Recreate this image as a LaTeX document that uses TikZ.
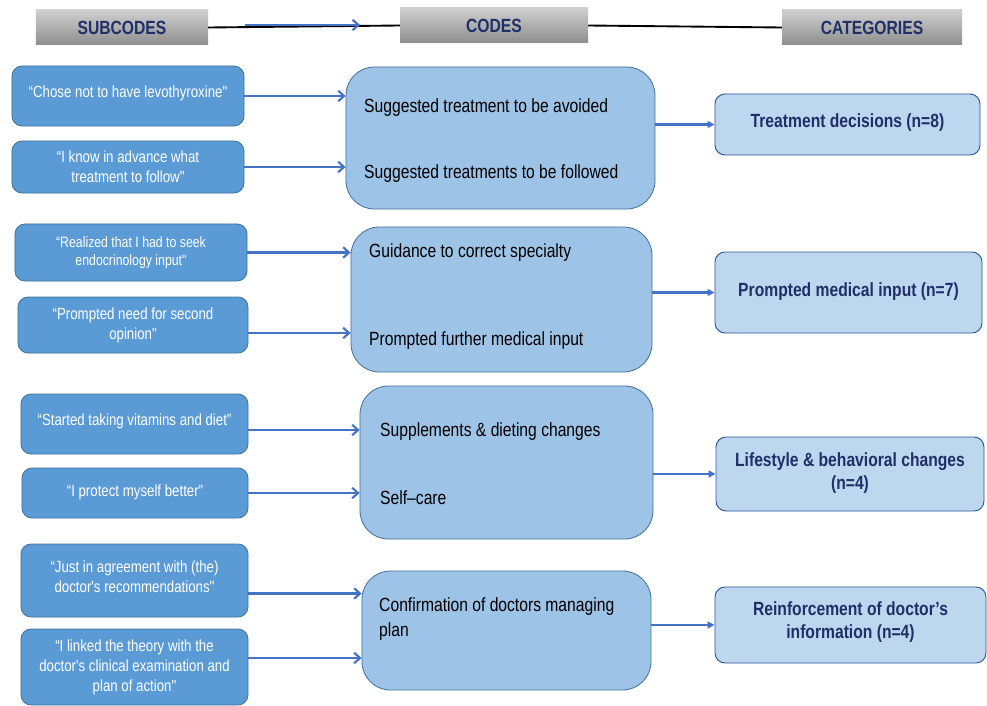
\documentclass[tikz,border=0pt]{standalone}
\usepackage{fontspec}
\setmainfont{Liberation Sans}
\newfontfamily\narrowfont[FakeStretch=0.82]{Liberation Sans}
\usetikzlibrary{calc,arrows.meta}

\definecolor{subfill}{HTML}{5B9BD5}
\definecolor{subline}{HTML}{41719C}
\definecolor{codefill}{HTML}{9DC3E6}
\definecolor{catfill}{HTML}{BDD7EE}
\definecolor{catline}{HTML}{2F5597}
\definecolor{arrowblue}{HTML}{4472C4}
\definecolor{navy}{HTML}{1F3068}
\definecolor{headtop}{HTML}{CFCFCF}
\definecolor{headbot}{HTML}{8E8E8E}

\def\subtxt{\narrowfont\fontsize{13.8}{17}\selectfont}
\def\subsmall{\narrowfont\fontsize{12.8}{15.3}\selectfont}
\def\codetxt{\narrowfont\fontsize{16.3}{22}\selectfont}
\def\cattxt{\narrowfont\bfseries\fontsize{16.3}{19.5}\selectfont}

\tikzset{
	head/.style={top color=headtop, bottom color=headbot, minimum height=1.05cm, text=navy, font=\cattxt},
	subbox/.style={draw=subline, fill=subfill, rounded corners=0.3cm, line width=0.7pt, text=white, font=\subtxt, align=center, inner sep=1pt},
	codebox/.style={draw=subline, fill=codefill, rounded corners=0.85cm, line width=0.7pt},
	codetext/.style={anchor=west, font=\codetxt, align=left, inner sep=0pt},
	catbox/.style={draw=catline, fill=catfill, rounded corners=0.3cm, line width=0.8pt, text=navy, font=\cattxt, align=center},
	subarrow/.style={draw=arrowblue, line width=1.8pt, -{Straight Barb[length=5pt,width=9pt]}},
	catarrow/.style={draw=arrowblue, line width=1.8pt, -{Triangle[length=6pt,width=6pt]}},
	headline/.style={line width=1.6pt, draw=black}
}

\begin{document}
\begin{tikzpicture}[x=0.03cm, y=-0.03cm]
	%%%%% START %%%%%
	\useasboundingbox (0, 0) rectangle (987, 706);
	
	% headers
	\node[head, minimum width=5.16cm] (hsub) at (122, 27.5) {SUBCODES};
	\node[head, minimum width=5.64cm] (hcode) at (494, 25.5) {CODES};
	\node[head, minimum width=5.4cm] (hcat) at (872, 27.5) {CATEGORIES};
	\coordinate (ha) at (245, 25);
	\coordinate (hb) at (360, 25);
	
	\draw[headline] (hsub.east) -- (hcode.west);
	\draw[headline] (hcode.east) -- (hcat.west);
	\draw[subarrow] (ha) -- (hb);
	
	% subcodes
	\node[subbox, minimum width=6.96cm, minimum height=1.8cm] (s1) at (128, 96) {“Chose not to have levothyroxine"\\[-9pt]};
	\node[subbox, minimum width=6.96cm, minimum height=1.56cm] (s2) at (128, 167) {“I know in advance what\\treatment to follow"};
	\node[subbox, font=\subsmall, minimum width=6.96cm, minimum height=1.71cm] (s3) at (131, 252.5) {“Realized that I had to seek\\endocrinology input"};
	\node[subbox, minimum width=6.9cm, minimum height=1.68cm] (s4) at (133, 325) {“Prompted need for second\\opinion"};
	\node[subbox, minimum width=6.81cm, minimum height=1.8cm] (s5) at (134.5, 424) {“Started taking vitamins and diet”\\[-9pt]};
	\node[subbox, minimum width=6.78cm, minimum height=1.5cm] (s6) at (135, 493) {“I protect myself better”\\[-13pt]};
	\node[subbox, minimum width=6.81cm, minimum height=2.19cm] (s7) at (134.5, 580.5) {“Just in agreement with (the)\\doctor's recommendations"\\[-11pt]};
	\node[subbox, minimum width=6.81cm, minimum height=2.28cm] (s8) at (134.5, 667) {“I linked the theory with the\\doctor's clinical examination and\\plan of action"};
	
	% codes
	\node[codebox, minimum width=9.27cm, minimum height=4.26cm] (c1) at (500.5, 138) {};
	\node[codebox, minimum width=9.03cm, minimum height=4.35cm] (c2) at (501.5, 299.5) {};
	\node[codebox, minimum width=8.79cm, minimum height=4.59cm] (c3) at (506.5, 462.5) {};
	\node[codebox, minimum width=8.67cm, minimum height=3.57cm] (c4) at (506.5, 630.5) {};
	
	\node[codetext] (t1a) at (364, 108) {Suggested treatment to be avoided};
	\node[codetext] (t1b) at (364, 174) {Suggested treatments to be followed};
	\node[codetext] (t2a) at (369, 253) {Guidance to correct specialty};
	\node[codetext] (t2b) at (369, 341) {Prompted further medical input};
	\node[codetext] (t3a) at (380, 432) {Supplements \& dieting changes};
	\node[codetext] (t3b) at (380, 498) {Self–care};
	\node[codetext] (t4a) at (379, 619) {Confirmation of doctors managing\\plan};
	
	% categories
	\node[catbox, minimum width=7.95cm, minimum height=1.83cm] (k1) at (847.5, 124.5) {Treatment decisions (n=8)\\[-13pt]};
	\node[catbox, minimum width=8.01cm, minimum height=2.43cm] (k2) at (848.5, 292.5) {Prompted medical input (n=7)\\[-14pt]};
	\node[catbox, minimum width=8.04cm, minimum height=2.22cm] (k3) at (850, 474) {Lifestyle \& behavioral changes\\(n=4)\\[-15pt]};
	\node[catbox, minimum width=8.13cm, minimum height=2.28cm] (k4) at (850.5, 625) {Reinforcement of doctor’s\\information (n=4)\\[-11pt]};
	
	% subcodes to codes
	\draw[subarrow] (s1.east) -- (c1.west |- s1.east);
	\draw[subarrow] (s2.east) -- (c1.west |- s2.east);
	\draw[subarrow] (s3.east) -- (c2.west |- s3.east);
	\draw[subarrow] ($(s4.east)+(0, 8)$) -- ($(c2.west |- s4.east)+(0, 8)$);
	\draw[subarrow] ($(s5.east)+(0, 6)$) -- ($(c3.west |- s5.east)+(0, 6)$);
	\draw[subarrow] (s6.east) -- (c3.west |- s6.east);
	\draw[subarrow] ($(s7.east)+(0, 13)$) -- ($(c4.west |- s7.east)+(0, 13)$);
	\draw[subarrow] ($(s8.east)+(0, -9)$) -- ($(c4.west |- s8.east)+(0, -9)$);
	
	% codes to categories
	\draw[catarrow] (c1.east |- k1.west) -- (k1.west);
	\draw[catarrow] (c2.east |- k2.west) -- (k2.west);
	\draw[catarrow] (c3.east |- k3.west) -- (k3.west);
	\draw[catarrow] (c4.east |- k4.west) -- (k4.west);
	
	%%%%% END %%%%%
\end{tikzpicture}
\end{document}
